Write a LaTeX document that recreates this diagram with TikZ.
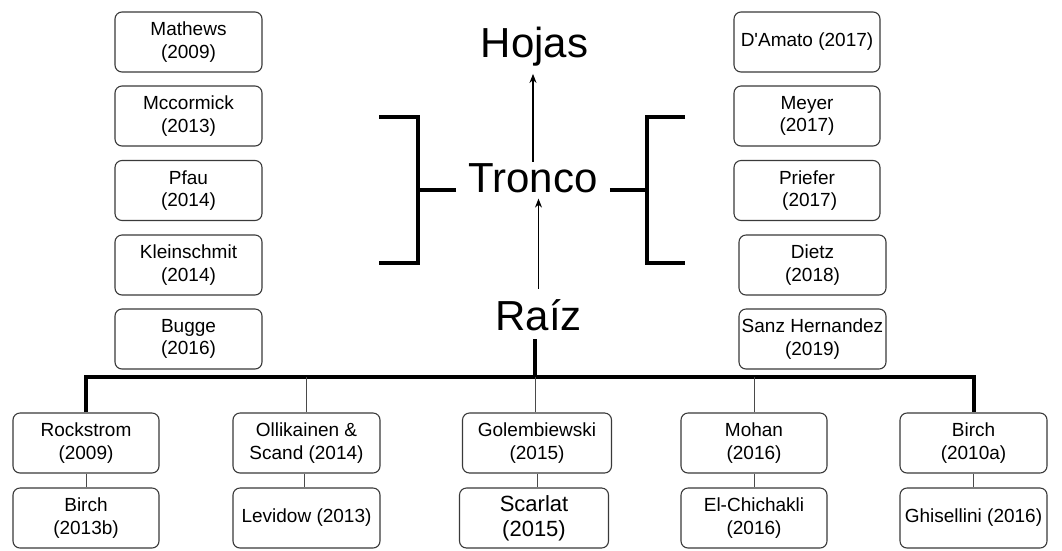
\documentclass[tikz,border=0pt]{standalone}
\usepackage{fontspec}
\setmainfont{Liberation Sans}
\usetikzlibrary{arrows.meta,calc}
\definecolor{boxgray}{HTML}{3A3A3A}
\definecolor{linegray}{HTML}{4A4A4A}
\begin{document}
\begin{tikzpicture}[x=1pt,y=-1pt,
  box/.style={draw=boxgray, line width=1.1pt, rounded corners=7pt, minimum width=147pt, minimum height=60pt, align=center, inner sep=0pt, font=\fontsize{19}{22.5}\selectfont, text=black},
  big/.style={font=\fontsize{42}{48}\selectfont, inner xsep=12pt, inner ysep=1pt, anchor=base},
  bar/.style={line width=4pt, line join=miter},
  thinline/.style={draw=linegray, line width=1pt},
  arr/.style={line width=1.1pt, -{Stealth[length=9pt,width=7pt]}}]
\useasboundingbox[fill=white] (0,0) rectangle (1062,550);

% big labels
\node[big] (hojas) at (534.5,57) {Hojas};
\node[big] (tronco) at (533,192) {Tronco};
\node[big] (raiz) at (538.5,330) {Raíz};

% left column
\node[box] (mathews) at (188.5,42) {Mathews\\(2009)};
\node[box] (mccormick) at (188.5,116) {Mccormick\\(2013)};
\node[box] (pfau) at (188.5,190.5) {Pfau\\(2014)};
\node[box] (klein) at (188.5,265) {Kleinschmit\\(2014)};
\node[box] (bugge) at (188.5,339) {Bugge\\(2016)};

% right column
\node[box, minimum width=146pt] (damato) at (807,42) {D\textquotesingle Amato (2017)};
\node[box, minimum width=146pt] (meyer) at (807,116) {Meyer\\(2017)};
\node[box, minimum width=146pt] (priefer) at (807,190.5) {Priefer\\\ (2017)};
\node[box] (dietz) at (812.5,265) {Dietz\\(2018)};
\node[box] (sanz) at (812.5,339) {Sanz Hernandez\\(2019)};

% bottom rows
\node[box, minimum width=146pt] (rock) at (86,443) {Rockstrom\\(2009)};
\node[box, minimum width=146pt] (birchb) at (86,518) {Birch\\(2013b)};
\node[box] (olli) at (306.5,443) {Ollikainen \&\\Scand (2014)};
\node[box] (levidow) at (306.5,518) {Levidow (2013)};
\node[box, minimum width=149pt] (golem) at (537,443) {Golembiewski\\(2015)};
\node[box, minimum width=149pt, font=\fontsize{22}{25}\selectfont] (scarlat) at (534,518) {Scarlat\\(2015)};
\node[box, minimum width=146pt] (mohan) at (754,443) {Mohan\\(2016)};
\node[box, minimum width=146pt] (elchi) at (754,518) {El-Chichakli\\(2016)};
\node[box] (bircha) at (973.5,443) {Birch\\(2010a)};
\node[box] (ghis) at (973.5,518) {Ghisellini (2016)};

% bus
\coordinate (bus) at (535,377);
\draw[bar] (rock.north) |- (bus) -| (bircha.north);
\draw[bar, shorten >=7pt] (bus) -- (bus |- raiz.south);
\draw[thinline] (olli.north) -- (olli.north |- bus);
\draw[thinline] (golem.north -| bus) -- (bus);
\draw[thinline] (mohan.north) -- (mohan.north |- bus);

% vertical pairs
\draw[thinline] (rock.south) -- (birchb.north);
\draw[thinline] (olli.south -| 304,0) -- (levidow.north -| 304,0);
\draw[thinline] (golem.south) -- (golem.south |- scarlat.north);
\draw[thinline] (mohan.south) -- (elchi.north);
\draw[thinline] (bircha.south) -- (ghis.north);

% arrows
\draw[arr, shorten >=7pt] (tronco.north) -- (tronco.north |- hojas.south);
\draw[arr, shorten <=9pt, shorten >=5pt] (raiz.north) -- (raiz.north |- tronco.south);

% brackets
\draw[bar] ($(tronco.base west)+(0,-2)$) -- (418,190);
\draw[bar] (379,117) -| (418,263) -- (379,263);
\draw[bar] ($(tronco.base east)+(0,-2)$) -- (647,190);
\draw[bar] (685,117) -| (647,263) -- (685,263);
\end{tikzpicture}
\end{document}
